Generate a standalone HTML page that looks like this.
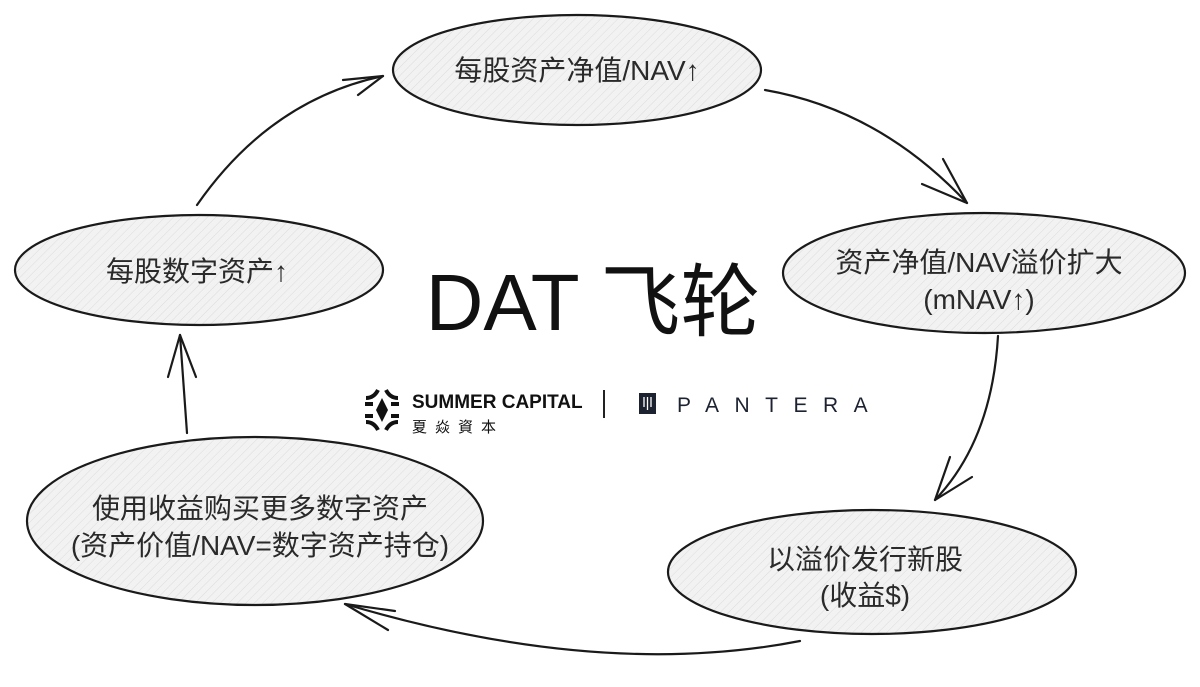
<!DOCTYPE html>
<html><head><meta charset="utf-8"><style>
html,body{margin:0;padding:0;background:#fff;}
svg text{font-family:"Liberation Sans","Noto Sans CJK SC",sans-serif;fill:#2a2a2a;}
</style></head><body>
<svg width="1200" height="682" viewBox="0 0 1200 682" xmlns="http://www.w3.org/2000/svg">
<defs>
<pattern id="h" patternUnits="userSpaceOnUse" width="6" height="6" patternTransform="rotate(45)">
<rect width="6" height="6" fill="#f2f2f2"/><line x1="0" y1="0" x2="0" y2="6" stroke="#dcdcdc" stroke-width="1"/>
</pattern>
</defs>
<g stroke="#1a1a1a" stroke-width="2.2" fill="url(#h)">
<ellipse cx="577" cy="70" rx="184" ry="55"/>
<ellipse cx="984" cy="273" rx="201" ry="60"/>
<ellipse cx="872" cy="572" rx="204" ry="62"/>
<ellipse cx="255" cy="521" rx="228" ry="84"/>
<ellipse cx="199" cy="270" rx="184" ry="55"/>
</g>
<g stroke="#1a1a1a" stroke-width="2.2" fill="none" stroke-linecap="round">
<path d="M197 205 Q270 100 383 76"/><path d="M383 76 L343 80 M383 76 L358 95"/>
<path d="M765 90 Q880 110 967 203"/><path d="M967 203 L922 184 M967 203 L943 159"/>
<path d="M998 336 Q992 440 935 500"/><path d="M935 500 L950 457 M935 500 L972 477"/>
<path d="M800 641 Q600 680 345 604"/><path d="M345 604 L395 611 M345 604 L388 630"/>
<path d="M187 433 L180 335"/><path d="M180 335 L168 377 M180 335 L196 377"/>
</g>
<g font-size="28" text-anchor="middle">
<text x="577" y="80">每股资产净值/NAV↑</text>
<text x="979" y="272">资产净值/NAV溢价扩大</text>
<text x="979" y="309">(mNAV↑)</text>
<text x="865" y="569">以溢价发行新股</text>
<text x="865" y="605">(收益$)</text>
<text x="260" y="518">使用收益购买更多数字资产</text>
<text x="260" y="555">(资产价值/NAV=数字资产持仓)</text>
<text x="197" y="281">每股数字资产↑</text>
</g>
<text x="593" y="330" font-size="80" text-anchor="middle" style="fill:#111">DAT 飞轮</text>
<g fill="#111">
<path d="M366 398 q8 0 12 -8 M398 398 q-8 0 -12 -8 M366 422 q8 0 12 8 M398 422 q-8 0 -12 8" stroke="#111" stroke-width="4" fill="none"/>
<path d="M382 398 L388 410 L382 422 L376 410 Z"/>
<path d="M365 404 h8 M391 404 h8 M365 416 h8 M391 416 h8" stroke="#111" stroke-width="4"/>
</g>
<text x="412" y="408" font-size="19" font-weight="bold" style="fill:#111">SUMMER CAPITAL</text>
<text x="412" y="432" font-size="15" letter-spacing="8" style="fill:#111">夏焱資本</text>
<line x1="604" y1="390" x2="604" y2="418" stroke="#222" stroke-width="2"/>
<rect x="639" y="393" width="17" height="21" fill="#1c2230"/>
<path d="M644 397 v10 M647.5 397 v13 M651 397 v10" stroke="#fff" stroke-width="1.3"/>
<text x="677" y="412" font-size="21" letter-spacing="15.5" style="fill:#1c2230">PANTERA</text>
</svg>
</body></html>
